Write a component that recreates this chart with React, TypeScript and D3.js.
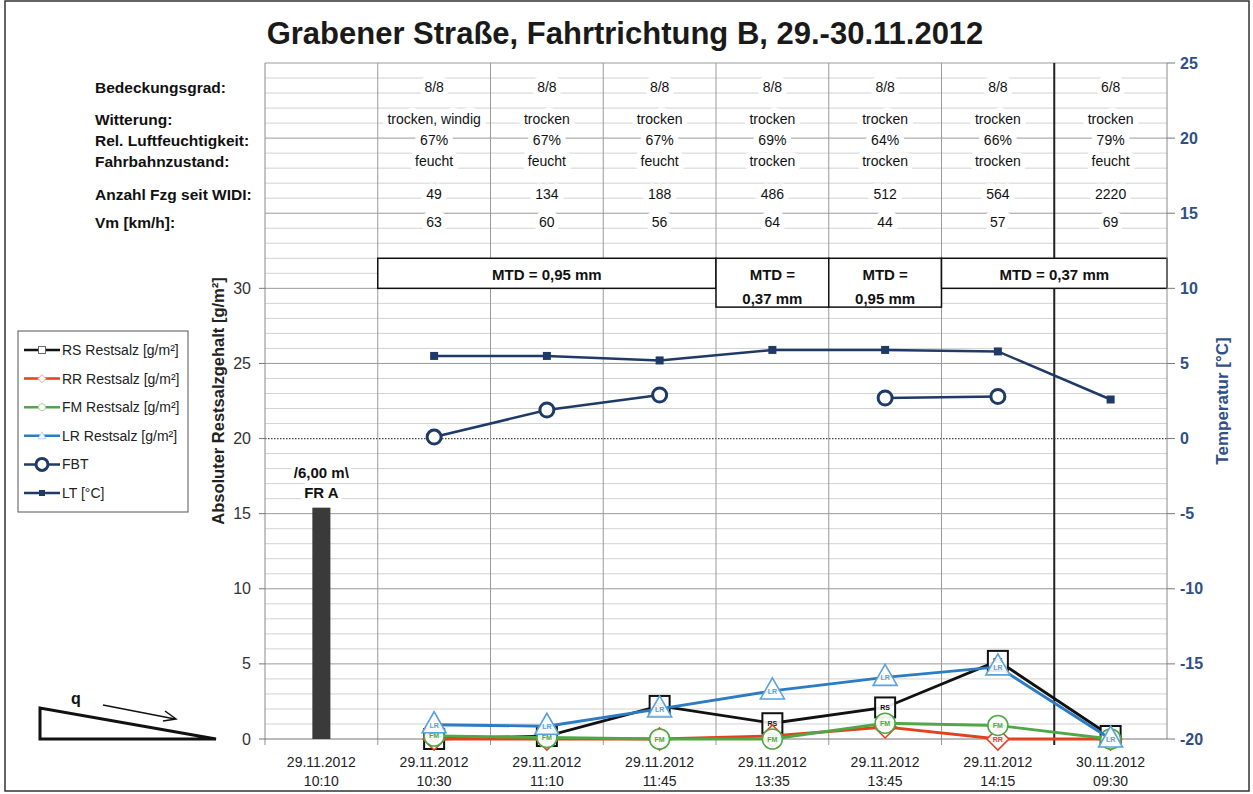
import * as d3 from 'd3';

// categories (sampling times)
const dateLabels = ['29.11.2012', '29.11.2012', '29.11.2012', '29.11.2012', '29.11.2012', '29.11.2012', '29.11.2012', '30.11.2012'];
const timeLabels = ['10:10', '10:30', '11:10', '11:45', '13:35', '13:45', '14:15', '09:30'];

// table rows above the chart
const bedeckungsgrad = ['', '8/8', '8/8', '8/8', '8/8', '8/8', '8/8', '6/8'];
const witterung = ['', 'trocken, windig', 'trocken', 'trocken', 'trocken', 'trocken', 'trocken', 'trocken'];
const luftfeuchte = ['', '67%', '67%', '67%', '69%', '64%', '66%', '79%'];
const fahrbahn = ['', 'feucht', 'feucht', 'feucht', 'trocken', 'trocken', 'trocken', 'feucht'];
const anzahlFzg = ['', '49', '134', '188', '486', '512', '564', '2220'];
const vmKmh = ['', '63', '60', '56', '64', '44', '57', '69'];

// Restsalz [g/m²]
const frBar = [15.4, null, null, null, null, null, null, null];
const rsValues = [null, 0, 0.2, 2.2, 1.05, 2.1, 5.2, 0.2];
const rrValues = [null, 0, 0, 0, 0.2, 0.8, 0, 0];
const fmValues = [null, 0.2, 0.1, 0, 0, 1.05, 0.9, 0];
const lrValues = [null, 0.95, 0.85, 2.0, 3.2, 4.1, 4.8, 0];

// Temperatur [°C]
const fbtValues = [null, 0.1, 1.9, 2.9, null, 2.7, 2.8, null];
const ltValues = [null, 5.5, 5.5, 5.2, 5.9, 5.9, 5.8, 2.6];

const leftTicks = [0, 5, 10, 15, 20, 25, 30];
const rightTicks = [-20, -15, -10, -5, 0, 5, 10, 15, 20, 25];

const mtdBoxes = [
  { from: '10:30', to: '11:45', lines: ['MTD = 0,95 mm'] },
  { from: '13:35', to: '13:35', lines: ['MTD =', '0,37 mm'] },
  { from: '13:45', to: '13:45', lines: ['MTD =', '0,95 mm'] },
  { from: '14:15', to: '09:30', lines: ['MTD = 0,37 mm'] },
];

const FONT = "'Liberation Sans', Arial, sans-serif";
const NAVY = '#1f3a66';
const AXIS_BLUE = '#2f4f85';

type Pt = { i: number; v: number | null };

function Marker({ kind, x, y, color, label }: { kind: string; x: number; y: number; color: string; label: string }) {
  let shape = null;
  if (kind === 'square') shape = <rect x={x - 10} y={y - 10} width={20} height={20} fill="#fff" fillOpacity={0.9} stroke={color} strokeWidth={2} />;
  if (kind === 'diamond') shape = <path d={`M${x},${y - 11}L${x + 11},${y}L${x},${y + 11}L${x - 11},${y}Z`} fill="#fff" fillOpacity={0.9} stroke={color} strokeWidth={1.6} />;
  if (kind === 'circle') shape = <circle cx={x} cy={y} r={10} fill="#fff" fillOpacity={0.9} stroke={color} strokeWidth={1.6} />;
  if (kind === 'triangle') shape = <path d={`M${x},${y - 13}L${x + 12},${y + 8}L${x - 12},${y + 8}Z`} fill="#fff" fillOpacity={0.9} stroke={color} strokeWidth={1.6} />;
  return (
    <g>
      {shape}
      <text x={x} y={y + (kind === 'triangle' ? 3 : 2.5)} textAnchor="middle" fontSize={7} fontWeight="bold" fontFamily={FONT} fill={color}>
        {label}
      </text>
    </g>
  );
}

export default function App() {
  const width = 1253;
  const height = 794;
  const left = 265;
  const right = 1167;
  const top = 63;
  const bottom = 739;

  const x = d3.scaleBand<string>().domain(timeLabels).range([left, right]).padding(0);
  const bw = x.bandwidth();
  const cx = (i: number) => (x(timeLabels[i]) ?? 0) + bw / 2;
  const yL = d3.scaleLinear().domain([0, 45]).range([bottom, top]);
  const yR = d3.scaleLinear().domain([-20, 25]).range([bottom, top]);

  const gridValues = d3.range(0, 46, 1);
  const boundaries = timeLabels.slice(1).map((t) => x(t) ?? 0);

  const toPts = (arr: (number | null)[]): Pt[] => arr.map((v, i) => ({ i, v }));
  const lineL = d3
    .line<Pt>()
    .defined((d) => d.v !== null)
    .x((d) => cx(d.i))
    .y((d) => yL(d.v as number));
  const lineR = d3
    .line<Pt>()
    .defined((d) => d.v !== null)
    .x((d) => cx(d.i))
    .y((d) => yR(d.v as number));

  const saltSeries = [
    { name: 'RS', values: rsValues, color: '#111111', kind: 'square', markColor: '#111111' },
    { name: 'RR', values: rrValues, color: '#e2401f', kind: 'diamond', markColor: '#e2401f' },
    { name: 'FM', values: fmValues, color: '#4fa845', kind: 'circle', markColor: '#4fa845' },
    { name: 'LR', values: lrValues, color: '#2b7cc2', kind: 'triangle', markColor: '#5aa2dc' },
  ];

  const tableRows = [
    { label: 'Bedeckungsgrad:', values: bedeckungsgrad, y: 87 },
    { label: 'Witterung:', values: witterung, y: 119 },
    { label: 'Rel. Luftfeuchtigkeit:', values: luftfeuchte, y: 140 },
    { label: 'Fahrbahnzustand:', values: fahrbahn, y: 161 },
    { label: 'Anzahl Fzg seit WIDI:', values: anzahlFzg, y: 194 },
    { label: 'Vm [km/h]:', values: vmKmh, y: 222 },
  ];

  const legendItems = [
    { label: 'RS Restsalz [g/m²]', color: '#111111', marker: 'square' },
    { label: 'RR Restsalz [g/m²]', color: '#e2401f', marker: 'diamond' },
    { label: 'FM Restsalz [g/m²]', color: '#4fa845', marker: 'circle' },
    { label: 'LR Restsalz [g/m²]', color: '#2b7cc2', marker: 'tri' },
    { label: 'FBT', color: NAVY, marker: 'fbt' },
    { label: 'LT  [°C]', color: NAVY, marker: 'lt' },
  ];

  return (
    <svg width={width} height={height} viewBox={`0 0 ${width} ${height}`} style={{ display: 'block', position: 'absolute', left: 0, top: 0, background: '#fff' }}>
      <rect x={0} y={0} width={width} height={height} fill="#fff" />
      <rect x={5} y={1} width={1244} height={790} fill="none" stroke="#333" strokeWidth={1.5} />

      <text x={625} y={44} textAnchor="middle" fontSize={31} fontWeight="bold" fontFamily={FONT} fill="#1a1a1a">
        Grabener Straße, Fahrtrichtung B, 29.-30.11.2012
      </text>

      {/* horizontal grid */}
      {gridValues.map((v) =>
        v === 20 || v === 0 ? null : (
          <line key={v} x1={left} x2={right} y1={yL(v)} y2={yL(v)} stroke={v % 5 === 0 ? '#9a9a9a' : '#d2d2d2'} strokeWidth={1} />
        ),
      )}
      <line x1={left} x2={right} y1={yL(20)} y2={yL(20)} stroke="#444" strokeWidth={1.2} strokeDasharray="1.5 1.5" />

      {/* vertical grid */}
      <line x1={left} x2={left} y1={top} y2={bottom} stroke="#8a8a8a" />
      {boundaries.map((bx, k) => (
        <line key={k} x1={bx} x2={bx} y1={top} y2={bottom + 6} stroke={k === 6 ? '#222' : '#9a9a9a'} strokeWidth={k === 6 ? 2 : 1} />
      ))}
      <line x1={left} x2={left} y1={bottom} y2={bottom + 6} stroke="#8a8a8a" />

      {/* table */}
      {tableRows.map((row) => (
        <g key={row.label}>
          <text x={95} y={row.y} dominantBaseline="central" fontSize={15.5} fontWeight="bold" fontFamily={FONT} fill="#111">
            {row.label}
          </text>
          {row.values.map((val, i) =>
            val ? (
              <text key={i} x={cx(i)} y={row.y} dominantBaseline="central" textAnchor="middle" fontSize={14} fontFamily={FONT} fill="#111" stroke="#fff" strokeWidth={11} strokeLinejoin="round" paintOrder="stroke">
                {val}
              </text>
            ) : null,
          )}
        </g>
      ))}

      {/* MTD boxes */}
      {mtdBoxes.map((b) => {
        const x0 = x(b.from) ?? 0;
        const x1 = (x(b.to) ?? 0) + bw;
        const y0 = yL(32);
        const y1 = yL(b.lines.length > 1 ? 28.75 : 30);
        return (
          <g key={b.from}>
            <rect x={x0} y={y0} width={x1 - x0} height={y1 - y0} fill="#fff" stroke="#111" strokeWidth={1.5} />
            {b.lines.map((ln, k) => (
              <text key={k} x={(x0 + x1) / 2} y={y0 + 22 + k * 24} textAnchor="middle" fontSize={15} fontWeight="bold" fontFamily={FONT} fill="#111">
                {ln}
              </text>
            ))}
          </g>
        );
      })}

      {/* left axis */}
      {leftTicks.map((t) => (
        <g key={t}>
          <line x1={left - 6} x2={left} y1={yL(t)} y2={yL(t)} stroke="#777" />
          <text x={251} y={yL(t)} dominantBaseline="central" textAnchor="end" fontSize={16} fontFamily={FONT} fill="#333">
            {t}
          </text>
        </g>
      ))}
      <text transform={`translate(224,${401}) rotate(-90)`} textAnchor="middle" fontSize={16.5} fontWeight="bold" fontFamily={FONT} fill="#222">
        Absoluter Restsalzgehalt [g/m²]
      </text>

      {/* right axis */}
      <line x1={right} x2={right} y1={top} y2={bottom} stroke="#8a8a8a" />
      {rightTicks.map((t) => (
        <g key={t}>
          <line x1={right} x2={right + 8} y1={yR(t)} y2={yR(t)} stroke="#777" />
          <text x={1180} y={yR(t)} dominantBaseline="central" fontSize={16} fontWeight="bold" fontFamily={FONT} fill={AXIS_BLUE}>
            {t}
          </text>
        </g>
      ))}
      <text transform={`translate(1228,${401}) rotate(-90)`} textAnchor="middle" fontSize={17} fontWeight="bold" fontFamily={FONT} fill={AXIS_BLUE}>
        Temperatur [°C]
      </text>

      {/* bottom axis */}
      <line x1={left} x2={right} y1={bottom} y2={bottom} stroke="#777" />
      {timeLabels.map((t, i) => (
        <g key={t}>
          <text x={cx(i)} y={767} textAnchor="middle" fontSize={14} fontFamily={FONT} fill="#222">
            {dateLabels[i]}
          </text>
          <text x={cx(i)} y={786} textAnchor="middle" fontSize={14} fontFamily={FONT} fill="#222">
            {t}
          </text>
        </g>
      ))}

      {/* bar */}
      {frBar.map((v, i) =>
        v === null ? null : (
          <g key={i}>
            <rect x={cx(i) - bw * 0.08} y={yL(v)} width={bw * 0.16} height={yL(0) - yL(v)} fill="#3a3a3a" />
            <text x={cx(i)} y={478} textAnchor="middle" fontSize={15} fontWeight="bold" fontFamily={FONT} fill="#111" stroke="#fff" strokeWidth={8} strokeLinejoin="round" paintOrder="stroke">
              /6,00 m\
            </text>
            <text x={cx(i)} y={498} textAnchor="middle" fontSize={15} fontWeight="bold" fontFamily={FONT} fill="#111" stroke="#fff" strokeWidth={8} strokeLinejoin="round" paintOrder="stroke">
              FR A
            </text>
          </g>
        ),
      )}

      {/* temperature lines */}
      <path d={lineR(toPts(ltValues)) ?? ''} fill="none" stroke={NAVY} strokeWidth={2.5} />
      {ltValues.map((v, i) => (v === null ? null : <rect key={i} x={cx(i) - 4} y={yR(v) - 4} width={8} height={8} fill={NAVY} />))}
      <path d={lineR(toPts(fbtValues)) ?? ''} fill="none" stroke={NAVY} strokeWidth={2.5} />
      {fbtValues.map((v, i) => (v === null ? null : <circle key={i} cx={cx(i)} cy={yR(v)} r={7} fill="#fff" stroke={NAVY} strokeWidth={3} />))}

      {/* salt lines */}
      {saltSeries.map((s) => (
        <g key={s.name}>
          <path d={lineL(toPts(s.values)) ?? ''} fill="none" stroke={s.color} strokeWidth={2.8} />
          {s.values.map((v, i) => (v === null ? null : <Marker key={i} kind={s.kind} x={cx(i)} y={yL(v)} color={s.markColor} label={s.name} />))}
        </g>
      ))}

      {/* legend */}
      <rect x={18} y={331} width={170} height={181} fill="#fff" stroke="#555" strokeWidth={1} />
      {legendItems.map((it, k) => {
        const ly = 350 + k * 28.6;
        const mx = 42;
        return (
          <g key={it.label}>
            <line x1={24} x2={60} y1={ly} y2={ly} stroke={it.color} strokeWidth={2.5} />
            {it.marker === 'square' && <rect x={mx - 3.5} y={ly - 3.5} width={7} height={7} fill="#fff" stroke="#666" />}
            {it.marker === 'diamond' && <path d={`M${mx},${ly - 4}L${mx + 4},${ly}L${mx},${ly + 4}L${mx - 4},${ly}Z`} fill="#fff" stroke="#f0a090" />}
            {it.marker === 'circle' && <circle cx={mx} cy={ly} r={3.5} fill="#fff" stroke="#a5d6a0" />}
            {it.marker === 'tri' && <path d={`M${mx},${ly - 4}L${mx + 4},${ly + 3}L${mx - 4},${ly + 3}Z`} fill="#fff" stroke="#b5d5f0" />}
            {it.marker === 'fbt' && <circle cx={mx} cy={ly} r={6} fill="#fff" stroke={NAVY} strokeWidth={3} />}
            {it.marker === 'lt' && <rect x={mx - 3} y={ly - 3} width={6} height={6} fill={NAVY} />}
            <text x={62} y={ly} dominantBaseline="central" fontSize={14} fontFamily={FONT} fill="#222">
              {it.label}
            </text>
          </g>
        );
      })}

      {/* slope sketch */}
      <path d="M40,739L40,708L216,739Z" fill="none" stroke="#111" strokeWidth={3} strokeLinejoin="miter" />
      <text x={76} y={704} textAnchor="middle" fontSize={16} fontWeight="bold" fontFamily={FONT} fill="#111">
        q
      </text>
      <path d="M103,705L175,719" stroke="#111" strokeWidth={1.5} fill="none" />
      <path d="M165,711L176,719L163,721" stroke="#111" strokeWidth={1.5} fill="none" />
    </svg>
  );
}
